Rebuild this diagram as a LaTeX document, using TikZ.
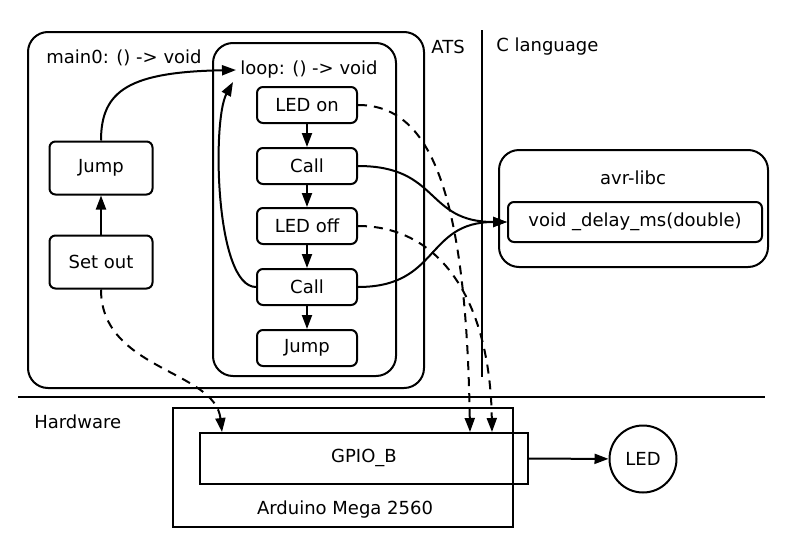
\documentclass[tikz,border=0pt]{standalone}
\usepackage{fontspec}
\setmainfont{DejaVu Sans}
\usetikzlibrary{arrows.meta}

\tikzset{
  box/.style={draw, rounded corners=6pt, minimum width=100pt, minimum height=36pt, inner sep=0pt},
  frame/.style={draw, rounded corners=20pt},
  flow/.style={-{Triangle[length=14pt,width=10pt]}},
  signal/.style={flow, dash pattern=on 9pt off 7pt},
}

\begin{document}
\begin{tikzpicture}[x=1pt, y=-1pt, line width=2pt, font=\fontsize{18}{21}\selectfont]
  \useasboundingbox (0,0) rectangle (800,557);

  % ATS side
  \draw[frame] (28,32) rectangle (424,388);
  \draw[frame] (213,43) rectangle (396,376);
  \node[anchor=west] (mainlbl) at (42,58) {main0: () -> void};
  \node[anchor=west] (looplbl) at (236,70) {loop: () -> void};
  \coordinate (loopin) at (233,82);

  \node[box, minimum width=103pt, minimum height=53pt] (jump1) at (101,168) {Jump};
  \node[box, minimum width=103pt, minimum height=53pt] (setout) at (101,262) {Set out};

  \node[box] (on) at (307,105) {LED on};
  \node[box] (call1) at (307,166) {Call};
  \node[box] (off) at (307,226) {LED off};
  \node[box] (call2) at (307,287) {Call};
  \node[box] (jump2) at (307,348) {Jump};

  \draw[flow] (setout) -- (jump1);
  \draw[flow] (on) -- (call1);
  \draw[flow] (call1) -- (off);
  \draw[flow] (off) -- (call2);
  \draw[flow] (call2) -- (jump2);
  \draw[flow] (jump1.north) .. controls (101,90) and (130,72) .. (looplbl.west);
  \draw[flow] (call2.west) .. controls (215,287) and (212,120) .. (loopin);

  % C side
  \draw (482,30) -- (482,377);
  \node (ats) at (448,47) {ATS};
  \node[anchor=west] (clang) at (492,47) {C language};
  \draw[frame] (499,150) rectangle (768,267);
  \node (avr) at (633,178) {avr-libc};
  \node[box, minimum width=254pt, minimum height=40pt] (delay) at (635,222) {void \_delay\_ms(double)};

  \draw[flow] (call1.east) .. controls (440,166) and (425,222) .. (delay.west);
  \draw[flow] (call2.east) .. controls (440,287) and (425,222) .. (delay.west);

  % hardware
  \draw (18,397) -- (765,397);
  \node[anchor=west] (hw) at (30,422) {Hardware};
  \draw (173,408) rectangle (513,527);
  \node[draw, minimum width=328pt, minimum height=51pt, inner sep=0pt] (gpio) at (364,458) {GPIO\_B};
  \node (board) at (345,510) {Arduino Mega 2560};
  \node[draw, circle, minimum size=67pt, inner sep=0pt] (led) at (643,459) {LED};
  \draw[flow] (gpio) -- (led);

  \coordinate (pin1) at (222,432);
  \coordinate (pin2) at (470,432);
  \coordinate (pin3) at (492,432);
  \draw[signal] (setout.south) .. controls (101,370) and (215,370) .. (pin1);
  \draw[signal] (on.east) .. controls (430,105) and (466,190) .. (pin2);
  \draw[signal] (off.east) .. controls (440,226) and (490,300) .. (pin3);
\end{tikzpicture}
\end{document}
